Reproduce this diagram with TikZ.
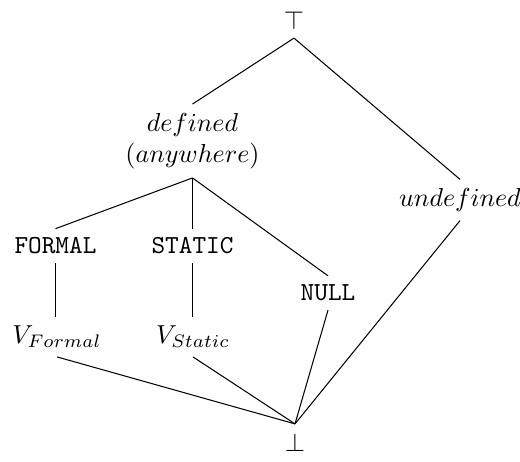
\documentclass[tikz,border=0pt]{standalone}
\begin{document}
\begin{tikzpicture}[x=0.385pt,y=-0.385pt,
  lat/.style={inner sep=3.3pt},
  conn/.style={line width=0.4pt}]
\useasboundingbox (0,0) rectangle (520,462);
\node[lat] (top) at (294,20) {$\top$};
\node[lat,align=center] (def) at (192.5,141) {$defined$\\$(anywhere)$};
\node[lat] (undef) at (460,200) {$undefined$};
\node[lat] (formal) at (55.5,246) {\texttt{FORMAL}};
\node[lat] (static) at (192.5,246) {\texttt{STATIC}};
\node[lat] (null) at (328,293) {\texttt{NULL}};
\node[lat] (vf) at (57,337) {$V_{Formal}$};
\node[lat] (vs) at (193,337) {$V_{Static}$};
\node[lat] (bot) at (295,442) {$\bot$};
\draw[conn] (top.south) -- (def.north);
\draw[conn] (top.south) -- (undef.north);
\draw[conn] (def.south) -- (formal.north);
\draw[conn] (def.south) -- (static.north);
\draw[conn] (def.south) -- (null.north);
\draw[conn] (formal.south) -- (vf.north -| formal.south);
\draw[conn] (static.south) -- (vs.north -| static.south);
\draw[conn] (vf.south) -- (bot.north);
\draw[conn] (vs.south) -- (bot.north);
\draw[conn] (null.south) -- (bot.north);
\draw[conn] (undef.south) -- (bot.north);
\end{tikzpicture}
\end{document}
